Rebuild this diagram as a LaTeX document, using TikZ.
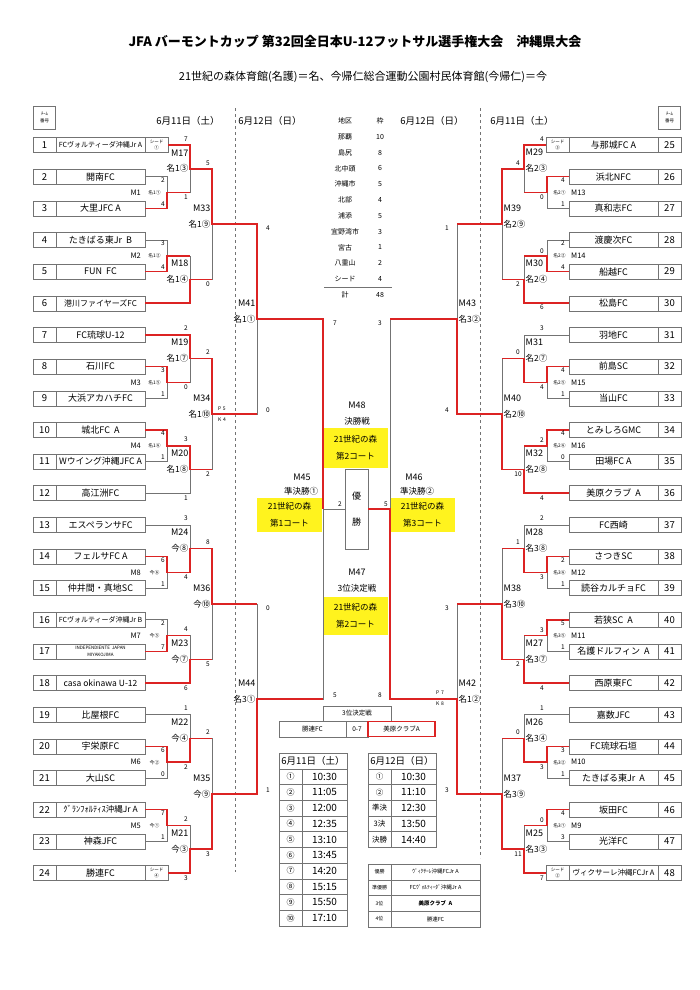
\documentclass[tikz,border=0pt]{standalone}
\usepackage{fontspec}
\setmainfont{Noto Sans CJK JP}
\definecolor{winred}{RGB}{220,35,35}
\definecolor{linegray}{RGB}{115,115,115}
\definecolor{courtyellow}{RGB}{255,243,30}
\newcommand{\fsz}[2]{\fontsize{#1}{#2}\selectfont}

\begin{document}
\begin{tikzpicture}[x=1pt, y=-1pt,
  team/.style={draw=linegray, minimum width=89pt, minimum height=15pt, inner sep=0pt, align=center},
  num/.style={draw=linegray, minimum width=23pt, minimum height=15pt, inner sep=0pt, font=\fsz{9.5}{10}},
  seed/.style={draw=linegray, minimum width=23pt, minimum height=15pt, inner sep=0pt, align=center, font=\fsz{4.5}{6}},
  bline/.style={draw=linegray, line width=0.6pt},
  win/.style={draw=winred, line width=1.6pt},
  score/.style={inner sep=0pt, font=\fsz{6.5}{7}},
  mnum/.style={inner sep=0pt, font=\fsz{9}{10}},
  loc/.style={inner sep=0pt, font=\fsz{8.5}{9}},
  mnumA/.style={inner sep=0pt, font=\fsz{7.5}{8}},
  locA/.style={inner sep=0pt, font=\fsz{4.8}{5}},
  court/.style={fill=courtyellow, minimum width=65pt, minimum height=34pt, inner sep=0pt, align=center, font=\fsz{8.5}{17}},
  stage/.style={inner sep=0pt, font=\fsz{8.5}{9}},
  dist/.style={inner sep=0pt, font=\fsz{7}{8}},
  cell/.style={draw=linegray, minimum height=15.7pt, inner sep=0pt},
  pk/.style={inner sep=0pt, align=left, font=\fsz{5}{11}}]
\useasboundingbox (0,0) rectangle (700,990);
\fill[white] (0,0) rectangle (700,990);

\node[font=\bfseries\fsz{13}{14}] (title) at (355,42) {JFA バーモントカップ 第32回全日本U-12フットサル選手権大会　沖縄県大会};
\node[font=\fsz{11}{12}] (sub) at (363,77) {21世紀の森体育館(名護)＝名、今帰仁総合運動公園村民体育館(今帰仁)＝今};

\node[draw=linegray, minimum width=22pt, minimum height=23pt, inner sep=0pt, align=center, font=\fsz{4.5}{7}] (hdl) at (44.5,117.5) {ﾁｰﾑ\\番号};
\node[draw=linegray, minimum width=22pt, minimum height=23pt, inner sep=0pt, align=center, font=\fsz{4.5}{7}] (hdr) at (669.5,117.5) {ﾁｰﾑ\\番号};
\node[font=\fsz{9.5}{10}] (dl1) at (188,121) {6月11日（土）};
\node[font=\fsz{9.5}{10}] (dl2) at (270,121) {6月12日（日）};
\node[font=\fsz{9.5}{10}] (dr2) at (432,121) {6月12日（日）};
\node[font=\fsz{9.5}{10}] (dr1) at (522,121) {6月11日（土）};
\draw[linegray, dashed, line width=0.5pt] (235,108) -- (235,872);
\draw[linegray, dashed, line width=0.5pt] (480,108) -- (480,858);

\node[dist] (dh1) at (345,121) {地区};
\node[dist] (dh2) at (380,121) {枠};
\foreach \a/\b [count=\i] in {那覇/10, 島尻/8, 北中頭/6, 沖縄市/5, 北部/4, 浦添/5, 宜野湾市/3, 宮古/1, 八重山/2, シード/4}{
  \node[dist] (da\i) at (345,{121+\i*15.8}) {\a};
  \node[dist] (db\i) at (380,{121+\i*15.8}) {\b};
}
\draw[bline] (324,287) -- (392,287);
\node[dist] (dt1) at (345,295) {計};
\node[dist] (dt2) at (380,295) {48};

\foreach \n/\f/\name in {1/7/FCヴォルティーダ沖縄Jr A, 2/9/開南FC, 3/9/大里JFC A, 4/9/たきばる東Jr\ \ B, 5/9/FUN\ \ FC, 6/8/港川ファイヤーズFC, 7/9/FC琉球U-12, 8/9/石川FC, 9/9/大浜アカハチFC, 10/9/城北FC\ \ A, 11/8.8/Wウイング沖縄JFC A, 12/9/高江洲FC, 13/9/エスペランサFC, 14/9/フェルサFC A, 15/9/仲井間・真地SC, 16/7/FCヴォルティーダ沖縄Jr B, 18/8.5/casa okinawa U-12, 19/9/比屋根FC, 20/9/宇栄原FC, 21/9/大山SC, 22/8.5/ｸﾞﾗﾝﾌｫﾙﾃｨｽ沖縄Jr A, 23/9/神森JFC, 24/9/勝連FC}{
  \node[num] (n\n) at (44.5,{145+(\n-1)*31.65}) {\n};
  \node[team, font=\fsz{\f}{\f}] (t\n) at (100.5,{145+(\n-1)*31.65}) {\name};
}
\node[num] (n17) at (44.5,651.4) {17};
\node[team, font=\fsz{4.5}{7}] (t17) at (100.5,651.4) {INDEPENDIENTE\ \ JAPAN\\MIYAKOJIMA};
\foreach \n/\f/\name in {25/9/与那城FC A, 26/9/浜北NFC, 27/9/真和志FC, 28/9/渡慶次FC, 29/9/船越FC, 30/9/松島FC, 31/9/羽地FC, 32/9/前島SC, 33/9/当山FC, 34/9/とみしろGMC, 35/9/田場FC A, 36/9/美原クラブ\ \ A, 37/9/FC西崎, 38/9/さつきSC, 39/9/読谷カルチョFC, 40/9/若狭SC\ \ A, 41/9/名護ドルフィン\ \ A, 42/9/西原東FC, 43/9/嘉数JFC, 44/9/FC琉球石垣, 45/9/たきばる東Jr\ \ A, 46/9/坂田FC, 47/9/光洋FC, 48/7.5/ヴィクサーレ沖縄FCJr A}{
  \node[num] (n\n) at (669.5,{145+(\n-25)*31.65}) {\n};
  \node[team, font=\fsz{\f}{\f}] (t\n) at (613.5,{145+(\n-25)*31.65}) {\name};
}
\node[seed] (s1) at (156.5,145) {シード\\①};
\node[seed] (s24) at (156.5,872.95) {シード\\④};
\node[seed] (s25) at (557.5,145) {シード\\③};
\node[seed] (s48) at (557.5,872.95) {シード\\②};

\foreach \m/\x/\y in {1/167/192.5, 17/190/168.7, 2/167/255.8, 18/190/279.5, 33/212/224.1, 3/167/382.4, 19/190/358.6, 4/167/445.7, 20/190/469.4, 34/212/414.0, 41/257/319.1, 8/167/572.3, 24/190/548.5, 7/167/635.6, 23/190/659.3, 36/212/603.9, 6/167/762.2, 22/190/738.4, 5/167/825.5, 21/190/849.2, 35/212/793.8, 44/257/698.9, 45/323/509.0, 13/547/192.5, 29/524/168.7, 14/547/255.8, 30/524/279.5, 39/502/224.1, 15/547/382.4, 31/524/358.6, 16/547/445.7, 32/524/469.4, 40/502/414.0, 43/457/319.1, 12/547/572.3, 28/524/548.5, 11/547/635.6, 27/524/659.3, 38/502/603.9, 10/547/762.2, 26/524/738.4, 9/547/825.5, 25/524/849.2, 37/502/793.8, 42/457/698.9, 46/390/509.0}
  \coordinate (m\m) at (\x,\y);

\node[mnum] (m48l) at (357,405) {M48};
\node[stage] (m48s) at (357,421) {決勝戦};
\node[court, minimum height=40pt] (c48) at (355.5,448) {21世紀の森\\第2コート};
\node[draw=linegray, minimum width=23pt, minimum height=80pt, inner sep=0pt, align=center, font=\fsz{9}{26}] (champ) at (356.5,509) {優\\勝};
\node[mnum] (m45l) at (302,477) {M45};
\node[stage] (m45s) at (301,491) {準決勝①};
\node[court] (c45) at (289.5,515) {21世紀の森\\第1コート};
\node[mnum] (m46l) at (414,477) {M46};
\node[stage] (m46s) at (417,491) {準決勝②};
\node[court] (c46) at (422.5,515) {21世紀の森\\第3コート};
\node[mnum] (m47l) at (357,572) {M47};
\node[stage] (m47s) at (357,588) {3位決定戦};
\node[court, minimum height=38pt] (c47) at (355.5,616) {21世紀の森\\第2コート};

\foreach \a/\b/\m in {t2.east/t3.east/m1, s1.east/m1/m17, t4.east/t5.east/m2, m2/t6.east/m18, m17/m18/m33, t8.east/t9.east/m3, t7.east/m3/m19, t10.east/t11.east/m4, m4/t12.east/m20, m19/m20/m34, m33/m34/m41, t14.east/t15.east/m8, t13.east/m8/m24, t16.east/t17.east/m7, m7/t18.east/m23, m24/m23/m36, t20.east/t21.east/m6, t19.east/m6/m22, t22.east/t23.east/m5, m5/s24.east/m21, m22/m21/m35, m36/m35/m44, m41/m44/m45, t26.west/t27.west/m13, s25.west/m13/m29, t28.west/t29.west/m14, m14/t30.west/m30, m29/m30/m39, t32.west/t33.west/m15, t31.west/m15/m31, t34.west/t35.west/m16, m16/t36.west/m32, m31/m32/m40, m39/m40/m43, t38.west/t39.west/m12, t37.west/m12/m28, t40.west/t41.west/m11, m11/t42.west/m27, m28/m27/m38, t44.west/t45.west/m10, t43.west/m10/m26, t46.west/t47.west/m9, m9/s48.west/m25, m26/m25/m37, m38/m37/m42, m43/m42/m46}
  \draw[bline] (\a) -| (\m) (\b) -| (\m);
\draw[bline] (m45) -- (m45 -| champ.west);

\draw[win] (s1.east) -| (m17) -| (m33) -| (m41) -| (m45);
\draw[win] (t3.east) -| (m1) -- (m1 -| m17);
\draw[win] (t5.east) -| (m2) -- (m2 -| m18);
\draw[win] (t6.east) -| (m18) -- (m18 -| m33);
\draw[win] (t7.east) -| (m19) -| (m34) -- (m34 -| m41);
\draw[win] (t8.east) -| (m3) -- (m3 -| m19);
\draw[win] (t10.east) -| (m4) -| (m20) -- (m20 -| m34);
\draw[win] (t14.east) -| (m8) -| (m24) -| (m36) -- (m36 -| m44);
\draw[win] (t17.east) -| (m7) -- (m7 -| m23);
\draw[win] (t18.east) -| (m23) -- (m23 -| m36);
\draw[win] (t20.east) -| (m6) -| (m22) -- (m22 -| m35);
\draw[win] (t22.east) -| (m5) -- (m5 -| m21);
\draw[win] (s24.east) -| (m21) -| (m35) -| (m44) -- (m44 -| m45);
\draw[win] (s25.west) -| (m29) -| (m39) -- (m39 -| m43);
\draw[win] (t26.west) -| (m13) -- (m13 -| m29);
\draw[win] (t29.west) -| (m14) -- (m14 -| m30);
\draw[win] (t30.west) -| (m30) -- (m30 -| m39);
\draw[win] (t32.west) -| (m15) -| (m31) -- (m31 -| m40);
\draw[win] (t34.west) -| (m16) -- (m16 -| m32);
\draw[win] (t36.west) -| (m32) -| (m40) -| (m43) -- (m43 -| m46);
\draw[win] (t38.west) -| (m12) -| (m28) -- (m28 -| m38);
\draw[win] (t40.west) -| (m11) -- (m11 -| m27);
\draw[win] (t42.west) -| (m27) -| (m38) -- (m38 -| m42);
\draw[win] (t44.west) -| (m10) -| (m26) -- (m26 -| m37);
\draw[win] (t46.west) -| (m9) -- (m9 -| m25);
\draw[win] (s48.west) -| (m25) -| (m37) -| (m42) -| (m46) -- (m46 -| champ.east);

\foreach \m/\y/\p in {1/192.5/名1①, 2/255.8/名1②, 3/382.4/名1⑤, 4/445.7/名1⑥, 8/572.3/今⑥, 7/635.6/今⑤, 6/762.2/今②, 5/825.5/今①}{
  \node[mnumA, anchor=east] (lm\m) at (141,\y) {M\m};
  \node[locA] (lp\m) at (154.5,\y) {\p};
}
\foreach \m/\y/\p in {13/192.5/名2①, 14/255.8/名2②, 15/382.4/名2⑤, 16/445.7/名2⑥, 12/572.3/名3⑥, 11/635.6/名3⑤, 10/762.2/名3②, 9/825.5/名3①}{
  \node[locA] (lp\m) at (559.5,\y) {\p};
  \node[mnumA, anchor=west] (lm\m) at (571,\y) {M\m};
}
\foreach \m/\x/\y/\p in {17/190/168.7/名1③, 18/190/279.5/名1④, 33/212/224.1/名1⑨, 19/190/358.6/名1⑦, 20/190/469.4/名1⑧, 34/212/414.0/名1⑩, 41/257/319.1/名1①, 24/190/548.5/今⑧, 23/190/659.3/今⑦, 36/212/603.9/今⑩, 22/190/738.4/今④, 21/190/849.2/今③, 35/212/793.8/今⑨, 44/257/698.9/名3①}{
  \node[mnum, anchor=east] (lm\m) at ({\x-1.5},{\y-16}) {M\m};
  \node[loc, anchor=east] (lp\m) at ({\x-1.5},\y) {\p};
}
\foreach \m/\x/\y/\p in {29/524/168.7/名2③, 30/524/279.5/名2④, 39/502/224.1/名2⑨, 31/524/358.6/名2⑦, 32/524/469.4/名2⑧, 40/502/414.0/名2⑩, 43/457/319.1/名3②, 28/524/548.5/名3⑧, 27/524/659.3/名3⑦, 38/502/603.9/名3⑩, 26/524/738.4/名3④, 25/524/849.2/名3③, 37/502/793.8/名3⑨, 42/457/698.9/名1②}{
  \node[mnum, anchor=west] (lm\m) at ({\x+1.5},{\y-16}) {M\m};
  \node[loc, anchor=west] (lp\m) at ({\x+1.5},\y) {\p};
}

\foreach \x/\y/\s [count=\i] in {163/180.5/2, 163/204.5/4, 186/139/7, 186/197.5/1, 163/243.5/3, 163/267.5/4, 208/163/5, 208/284.5/0, 163/370/3, 163/394/1, 186/328.5/2, 186/387.5/0, 163/433.5/4, 163/457.5/1, 186/439.5/3, 186/498/1, 208/352.5/2, 208/474.5/2, 268/228/4, 268/410/0, 163/560/6, 163/584/1, 186/518.5/3, 186/577.5/4, 163/623.5/2, 163/647.5/7, 186/629.5/4, 186/688/6, 208/542/8, 208/664/5, 268/608/0, 268/790/1, 163/750/6, 163/774/0, 186/708.5/1, 186/767.5/2, 163/813.5/7, 163/837.5/1, 186/819.5/2, 186/878/3, 208/732/2, 208/854/3, 335/323/7, 335/695/5, 340/504/2, 386/504/5, 563/180.5/4, 563/204.5/1, 542/139/4, 542/197.5/0, 563/243.5/2, 563/267.5/4, 542/251/0, 542/307.5/6, 518/163/4, 518/284.5/2, 563/370/4, 563/394/1, 542/328.5/3, 542/387.5/4, 563/433.5/4, 563/457.5/0, 542/440/2, 542/498/4, 518/352.5/0, 518/474.5/10, 447/228/1, 447/410/4, 563/560/2, 563/584/1, 542/518.5/2, 542/577.5/3, 563/623.5/5, 563/647.5/1, 542/630/3, 542/688/4, 518/542/1, 518/664/2, 447/608/3, 447/790/3, 563/750/3, 563/774/1, 542/708.5/1, 542/767.5/3, 563/813.5/4, 563/837.5/3, 542/820/0, 542/878/7, 518/732/0, 518/854/11, 380/323/3, 380/695/8}
  \node[score] (sc\i) at (\x,\y) {\s};
\node[pk] (pk1) at (222,414) {P\,\,5\\K\,\,4};
\node[pk] (pk2) at (440,698) {P\,\,7\\K\,\,8};

\node[cell, minimum width=68pt, minimum height=15pt, font=\fsz{6.5}{7}] (p3h) at (357,713.5) {3位決定戦};
\node[cell, minimum width=67pt, font=\fsz{6.5}{7}] (p3a) at (312.5,729) {勝連FC};
\node[cell, minimum width=22pt, font=\fsz{6.5}{7}] (p3s) at (357,729) {0-7};
\node[cell, draw=winred, line width=1.2pt, minimum width=67pt, font=\fsz{6.5}{7}] (p3b) at (401.5,729) {美原クラブA};

\node[cell, minimum width=68pt, font=\fsz{9.5}{10}] (tlh) at (313,761) {6月11日（土）};
\foreach \c/\t [count=\i] in {①/10:30, ②/11:05, ③/12:00, ④/12:35, ⑤/13:10, ⑥/13:45, ⑦/14:20, ⑧/15:15, ⑨/15:50, ⑩/17:10}{
  \node[cell, minimum width=23pt, font=\fsz{8}{9}] (tla\i) at (290.5,{761+\i*15.7}) {\c};
  \node[cell, minimum width=45pt, font=\fsz{10}{10}] (tlb\i) at (324.5,{761+\i*15.7}) {\t};
}
\node[cell, minimum width=68pt, font=\fsz{9.5}{10}] (trh) at (402,761) {6月12日（日）};
\foreach \c/\t [count=\i] in {①/10:30, ②/11:10, 準決/12:30, 3決/13:50, 決勝/14:40}{
  \node[cell, minimum width=23pt, font=\fsz{7.5}{8}] (tra\i) at (379.5,{761+\i*15.7}) {\c};
  \node[cell, minimum width=45pt, font=\fsz{10}{10}] (trb\i) at (413.5,{761+\i*15.7}) {\t};
}
\foreach \c/\t [count=\i] in {優勝/ｳﾞｨｸｻｰﾚ沖縄FCJr A, 準優勝/FCｳﾞｫﾙﾃｨｰﾀﾞ沖縄Jr A, 3位/\bfseries 美原クラブ\ \ A, 4位/勝連FC}{
  \node[cell, minimum width=23pt, font=\fsz{5}{6}] (rsa\i) at (379.5,{856.15+\i*15.7}) {\c};
  \node[cell, minimum width=89pt, font=\fsz{5.5}{6}] (rsb\i) at (435.5,{856.15+\i*15.7}) {\t};
}
\end{tikzpicture}
\end{document}
